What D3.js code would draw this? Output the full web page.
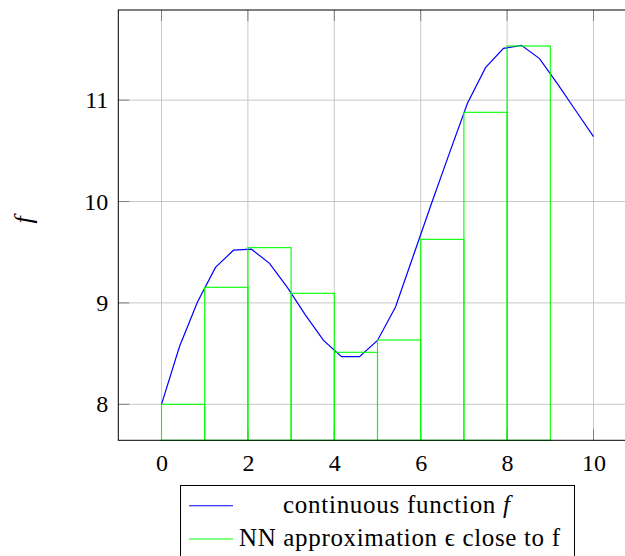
<!DOCTYPE html>
<html>
<head>
<meta charset="utf-8">
<script src="https://cdn.jsdelivr.net/npm/d3@7"></script>
<style>
  body { margin: 0; background: #fff; }
  svg { display: block; font-family: "Liberation Serif", "DejaVu Serif", serif; }
</style>
</head>
<body>
<div class="container"></div>
<script>
// continuous function samples
let fx = [0, 0.417, 0.833, 1.25, 1.667, 2.083, 2.5, 2.917, 3.333, 3.75, 4.167, 4.583, 5,
          5.417, 5.833, 6.25, 6.667, 7.083, 7.5, 7.917, 8.333, 8.75, 9.167, 9.583, 10]
let fy = [8.00, 8.57, 9.01, 9.35, 9.52, 9.53, 9.39, 9.15, 8.88, 8.63, 8.47, 8.47, 8.63,
          8.96, 9.47, 9.98, 10.48, 10.97, 11.32, 11.51, 11.54, 11.41, 11.16, 10.90, 10.64]

// NN approximation: one box per unit interval
let binStart = [0, 1, 2, 3, 4, 5, 6, 7, 8]
let binValue = [8.00, 9.154, 9.545, 9.095, 8.513, 8.634, 9.627, 10.88, 11.534]

let xTicks = [0, 2, 4, 6, 8, 10]
let yTicks = [8, 9, 10, 11]
let legendLabels = ['continuous function', 'NN approximation \u03f5 close to f']

let width = 625
let height = 556
let plot = { left: 118.3, top: 10, right: 636.7, bottom: 440.3 }

let xScale = d3.scaleLinear().domain([-1, 11]).range([plot.left, plot.right])
let yScale = d3.scaleLinear().domain([7.645, 11.889]).range([plot.bottom, plot.top])

let svg = d3.select('.container')
    .append('svg')
    .attr('width', width)
    .attr('height', height)

// grid
svg.append('g')
    .selectAll('line')
    .data(xTicks)
    .enter()
    .append('line')
    .attr('x1', d => xScale(d)).attr('x2', d => xScale(d))
    .attr('y1', plot.top).attr('y2', plot.bottom)
    .attr('stroke', '#c8c8c8')

svg.append('g')
    .selectAll('line')
    .data(yTicks)
    .enter()
    .append('line')
    .attr('x1', plot.left).attr('x2', plot.right)
    .attr('y1', d => yScale(d)).attr('y2', d => yScale(d))
    .attr('stroke', '#c8c8c8')

// inner tick marks
let tickLen = 11
let ticks = svg.append('g').attr('stroke', '#808080')
xTicks.forEach(d => {
    ticks.append('line').attr('x1', xScale(d)).attr('x2', xScale(d))
        .attr('y1', plot.top).attr('y2', plot.top + tickLen)
    ticks.append('line').attr('x1', xScale(d)).attr('x2', xScale(d))
        .attr('y1', plot.bottom).attr('y2', plot.bottom - tickLen)
})
yTicks.forEach(d => {
    ticks.append('line').attr('x1', plot.left).attr('x2', plot.left + tickLen)
        .attr('y1', yScale(d)).attr('y2', yScale(d))
})

// blue curve
let line = d3.line()
    .x(d => xScale(d[0]))
    .y(d => yScale(d[1]))

svg.append('path')
    .datum(d3.zip(fx, fy))
    .attr('d', line)
    .attr('fill', 'none')
    .attr('stroke', '#0000ff')
    .attr('stroke-width', 1.2)

// green boxes
svg.append('g')
    .selectAll('rect')
    .data(d3.zip(binStart, binValue))
    .enter()
    .append('rect')
    .attr('x', d => xScale(d[0]))
    .attr('width', d => xScale(d[0] + 1) - xScale(d[0]))
    .attr('y', d => yScale(d[1]))
    .attr('height', d => plot.bottom - yScale(d[1]))
    .attr('fill', 'none')
    .attr('stroke', '#00ff00')
    .attr('stroke-width', 1.1)

// frame
svg.append('rect')
    .attr('x', plot.left).attr('y', plot.top)
    .attr('width', plot.right - plot.left).attr('height', plot.bottom - plot.top)
    .attr('fill', 'none')
    .attr('stroke', '#000')

// tick labels
let xAxis = d3.axisBottom(xScale).tickValues(xTicks).tickFormat(d3.format('d')).tickSize(0).tickPadding(14)
svg.append('g')
    .attr('transform', `translate(0,${plot.bottom})`)
    .call(xAxis)
    .call(g => g.select('.domain').remove())
    .selectAll('text')
    .attr('font-family', '"Liberation Serif", serif')
    .attr('font-size', 24)
    .attr('fill', '#000')

let yAxis = d3.axisLeft(yScale).tickValues(yTicks).tickFormat(d3.format('d')).tickSize(0).tickPadding(10)
svg.append('g')
    .attr('transform', `translate(${plot.left},0)`)
    .call(yAxis)
    .call(g => g.select('.domain').remove())
    .selectAll('text')
    .attr('font-family', '"Liberation Serif", serif')
    .attr('font-size', 24)
    .attr('fill', '#000')

// y label
svg.append('text')
    .attr('transform', 'translate(32,220) rotate(-90)')
    .attr('text-anchor', 'middle')
    .attr('font-size', 26)
    .attr('font-style', 'italic')
    .text('f')

// legend
let legend = svg.append('g')
legend.append('rect')
    .attr('x', 180.5).attr('y', 485.5)
    .attr('width', 394).attr('height', 80)
    .attr('fill', '#fff')
    .attr('stroke', '#000')

let legendColors = ['#0000ff', '#00ff00']
let legendWidths = [227, 321]
let legendCenters = [396.5, 399.5]
let rowY = [505.7, 539]
legendLabels.forEach((lbl, i) => {
    legend.append('line')
        .attr('x1', 189).attr('x2', 233)
        .attr('y1', rowY[i]).attr('y2', rowY[i])
        .attr('stroke', legendColors[i])
        .attr('stroke-width', 1.1)
    let t = legend.append('text')
        .attr('x', legendCenters[i])
        .attr('y', rowY[i] + 7)
        .attr('text-anchor', 'middle')
        .attr('font-size', 25)
        .attr('textLength', legendWidths[i])
        .attr('lengthAdjust', 'spacing')
        .text(lbl)
    if (i === 0) {
        t.append('tspan').attr('font-style', 'italic').text(' f')
    }
})
</script>
</body>
</html>
